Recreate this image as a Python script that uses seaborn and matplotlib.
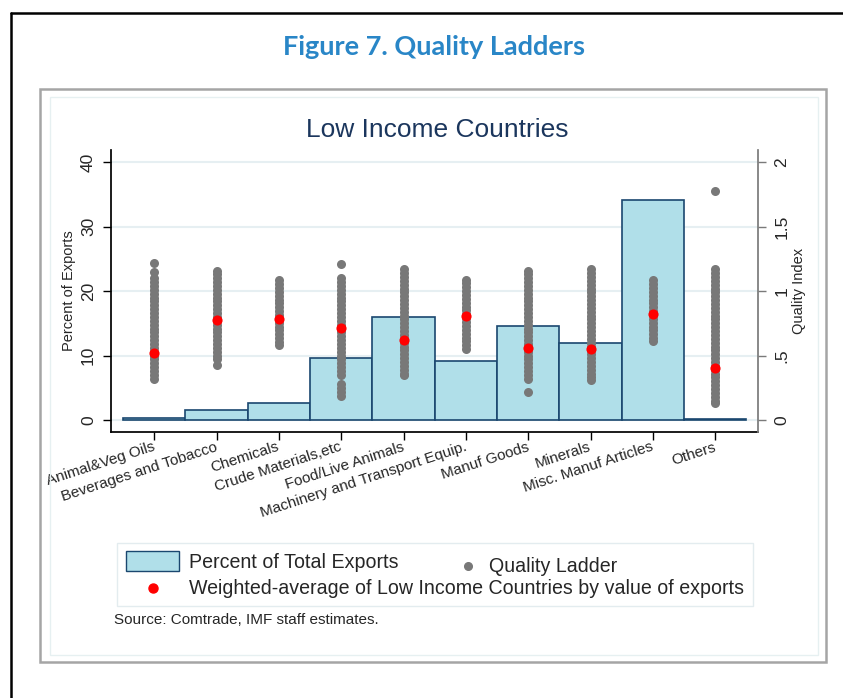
import matplotlib
matplotlib.use('Agg')
import pandas as pd
import matplotlib.pyplot as plt
import seaborn as sns
from matplotlib.patches import Rectangle
from matplotlib.lines import Line2D

sns.set_theme(style='white')
plt.rcParams['font.family'] = ['Liberation Sans', 'DejaVu Sans']

# ---- data ----
categories = ['Animal&Veg Oils', 'Beverages and Tobacco', 'Chemicals', 'Crude Materials,etc',
              'Food/Live Animals', 'Machinery and Transport Equip.', 'Manuf Goods', 'Minerals',
              'Misc. Manuf Articles', 'Others']
pct_exports = [0.3, 1.5, 2.6, 9.6, 16.0, 9.1, 14.6, 12.0, 34.1, 0.1]
weighted_avg = [0.52, 0.775, 0.78, 0.715, 0.62, 0.805, 0.56, 0.55, 0.82, 0.40]

# quality index of the individual countries (gray columns)
ladder_animal = [1.22, 1.15, 1.10, 1.07, 1.04, 1.01, 0.98, 0.95, 0.92, 0.89, 0.86, 0.83, 0.80,
                 0.77, 0.74, 0.71, 0.68, 0.65, 0.62, 0.59, 0.56, 0.53, 0.50, 0.47, 0.44, 0.41,
                 0.38, 0.35, 0.32]
ladder_beverages = [1.16, 1.13, 1.10, 1.07, 1.04, 1.01, 0.98, 0.95, 0.92, 0.89, 0.86, 0.83, 0.80,
                    0.77, 0.74, 0.71, 0.68, 0.65, 0.62, 0.59, 0.56, 0.53, 0.50, 0.47, 0.43]
ladder_chemicals = [1.085, 1.055, 1.025, 0.995, 0.965, 0.935, 0.905, 0.875, 0.845, 0.815, 0.785,
                    0.755, 0.725, 0.695, 0.665, 0.635, 0.605, 0.58]
ladder_crude = [1.21, 1.10, 1.07, 1.04, 1.01, 0.98, 0.95, 0.92, 0.89, 0.86, 0.83, 0.80, 0.77,
                0.74, 0.71, 0.68, 0.65, 0.62, 0.59, 0.56, 0.53, 0.50, 0.47, 0.44, 0.41, 0.38,
                0.35, 0.28, 0.25, 0.22, 0.19]
ladder_food = [1.17, 1.14, 1.11, 1.08, 1.05, 1.02, 0.99, 0.96, 0.93, 0.90, 0.87, 0.84, 0.81,
               0.78, 0.75, 0.72, 0.69, 0.66, 0.63, 0.60, 0.57, 0.54, 0.51, 0.48, 0.45, 0.42,
               0.39, 0.36, 0.35]
ladder_machinery = [1.09, 1.06, 1.03, 1.00, 0.97, 0.94, 0.91, 0.88, 0.85, 0.82, 0.79, 0.76, 0.73,
                    0.70, 0.67, 0.64, 0.61, 0.58, 0.55]
ladder_manuf = [1.16, 1.13, 1.10, 1.07, 1.04, 1.01, 0.98, 0.95, 0.92, 0.89, 0.86, 0.83, 0.80,
                0.77, 0.74, 0.71, 0.68, 0.65, 0.62, 0.59, 0.56, 0.53, 0.50, 0.47, 0.44, 0.41,
                0.38, 0.35, 0.32, 0.215]
ladder_minerals = [1.17, 1.14, 1.11, 1.08, 1.05, 1.02, 0.99, 0.96, 0.93, 0.90, 0.87, 0.84, 0.81,
                   0.78, 0.75, 0.72, 0.69, 0.66, 0.63, 0.60, 0.57, 0.54, 0.51, 0.48, 0.45, 0.42,
                   0.39, 0.36, 0.33, 0.31]
ladder_misc = [1.085, 1.055, 1.025, 0.995, 0.965, 0.935, 0.905, 0.875, 0.845, 0.815, 0.785,
               0.755, 0.725, 0.695, 0.665, 0.635, 0.61]
ladder_others = [1.775, 1.17, 1.14, 1.11, 1.08, 1.05, 1.02, 0.99, 0.96, 0.93, 0.90, 0.87, 0.84,
                 0.81, 0.78, 0.75, 0.72, 0.69, 0.66, 0.63, 0.60, 0.57, 0.54, 0.51, 0.48, 0.45,
                 0.42, 0.39, 0.36, 0.33, 0.30, 0.27, 0.24, 0.21, 0.18, 0.15, 0.135]

ladders = [ladder_animal, ladder_beverages, ladder_chemicals, ladder_crude, ladder_food,
           ladder_machinery, ladder_manuf, ladder_minerals, ladder_misc, ladder_others]

bar_df = pd.DataFrame({'category': categories, 'pct': pct_exports})
avg_df = pd.DataFrame({'category': categories, 'quality': weighted_avg})
ladder_df = pd.DataFrame([(c, v) for c, vals in zip(categories, ladders) for v in vals],
                         columns=['category', 'quality'])

BAR_FILL = '#b0dfe9'
BAR_EDGE = '#1a476f'
GRAY = '#787878'
NAVY = '#1b365d'

W, H = 843, 698


def fx(px):
    return px / W


def fy(py):
    return 1 - py / H


fig = plt.figure(figsize=(W / 100, H / 100), dpi=100)
fig.patch.set_facecolor('white')

ax_left, ax_right = 110.7, 758.3
ax = fig.add_axes([fx(ax_left), fy(432), (ax_right - ax_left) / W, (432 - 150) / H])
sns.barplot(data=bar_df, x='category', y='pct', order=categories, color=BAR_FILL,
            edgecolor=BAR_EDGE, linewidth=1.2, width=1.0, saturation=1, errorbar=None, ax=ax)
ax.set_ylim(-1.86, 41.9)
ax.set_yticks([0, 10, 20, 30, 40])
ax.set_yticklabels(['0', '10', '20', '30', '40'], rotation=90, va='center', fontsize=12.5)
ax.yaxis.grid(True, color='#e6eff2', linewidth=1.5)
ax.set_axisbelow(True)
ax.set_ylabel('Percent of Exports', fontsize=10.5)
ax.yaxis.set_label_coords((76 - ax_left) / (ax_right - ax_left), 0.5)
ax.set_xlabel('')

ax2 = ax.twinx()
sns.stripplot(data=ladder_df, x='category', y='quality', order=categories, jitter=False,
              color=GRAY, size=6.5, linewidth=0, ax=ax2, zorder=3)
sns.stripplot(data=avg_df, x='category', y='quality', order=categories, jitter=False,
              color='red', size=7.3, linewidth=0, ax=ax2, zorder=4)
ax2.set_ylim(-0.093, 2.095)
ax2.set_yticks([0, 0.5, 1, 1.5, 2])
ax2.set_yticklabels(['0', '.5', '1', '1.5', '2'], rotation=90, va='center', fontsize=12.5)
ax2.set_ylabel('Quality Index', fontsize=10.5)
ax2.yaxis.set_label_coords((792 - ax_left) / (ax_right - ax_left), 0.5)
ax2.set_xlabel('')

ax.set_xlim(-0.7, 9.69)
ax.set_xticks(range(len(categories)))
ax.set_xticklabels(categories, rotation=18, ha='right', va='center', rotation_mode='anchor',
                   fontsize=11)

for side in ['top', 'right']:
    ax.spines[side].set_visible(False)
for side in ['top', 'left', 'bottom']:
    ax2.spines[side].set_visible(False)
ax.spines['left'].set_color('black')
ax.spines['bottom'].set_color('black')
ax2.spines['right'].set_color('#7a7a7a')
ax.tick_params(axis='both', which='both', length=5.5, width=1, color='black', left=True,
               bottom=True, pad=5)
ax.tick_params(axis='y', pad=5)
ax2.tick_params(axis='y', length=5.5, width=1, color='#7a7a7a', right=True, pad=6)

# ---- frames ----
fig.add_artist(Line2D([fx(11), fx(11)], [fy(12.5), 0], color='black', lw=1.8,
                      transform=fig.transFigure))
fig.add_artist(Line2D([fx(11), 1], [fy(12.5), fy(12.5)], color='black', lw=1.8,
                      transform=fig.transFigure))
fig.patches.append(Rectangle((fx(40), fy(662)), (826 - 40) / W, (662 - 89) / H, fill=False,
                             edgecolor='#a5a5a5', lw=1.8, transform=fig.transFigure))
fig.patches.append(Rectangle((fx(50), fy(655)), (818 - 50) / W, (655 - 97) / H, fill=False,
                             edgecolor='#e6f0f1', lw=1, transform=fig.transFigure))

# ---- titles ----
fig.text(fx(434), fy(47), 'Figure 7. Quality Ladders', ha='center', va='center',
         fontsize=19.5, fontweight='bold', color='#2986c7', family=['Lato', 'DejaVu Sans'])
fig.text(fx(437.5), fy(130), 'Low Income Countries', ha='center', va='center',
         fontsize=19, color=NAVY)

# ---- legend ----
fig.patches.append(Rectangle((fx(117), fy(606)), (753 - 117) / W, (606 - 543) / H, fill=False,
                             edgecolor='#e3ecef', lw=1, transform=fig.transFigure))
fig.patches.append(Rectangle((fx(125.7), fy(571)), (179 - 125.7) / W, 20 / H, facecolor=BAR_FILL,
                             edgecolor=BAR_EDGE, lw=1, transform=fig.transFigure))
fig.add_artist(Line2D([fx(468)], [fy(566)], marker='o', ms=5.5, color=GRAY, lw=0,
                      transform=fig.transFigure))
fig.add_artist(Line2D([fx(152.5)], [fy(588)], marker='o', ms=6.5, color='red', lw=0,
                      transform=fig.transFigure))
fig.text(fx(189), fy(562), 'Percent of Total Exports', va='center', fontsize=14.1)
fig.text(fx(489.5), fy(566), 'Quality Ladder', va='center', fontsize=14.1)
fig.text(fx(189), fy(589), 'Weighted-average of Low Income Countries by value of exports',
         va='center', fontsize=14.1)
fig.text(fx(114.5), fy(620), 'Source: Comtrade, IMF staff estimates.', va='center', fontsize=11)

fig.savefig('out.png', dpi=100)
